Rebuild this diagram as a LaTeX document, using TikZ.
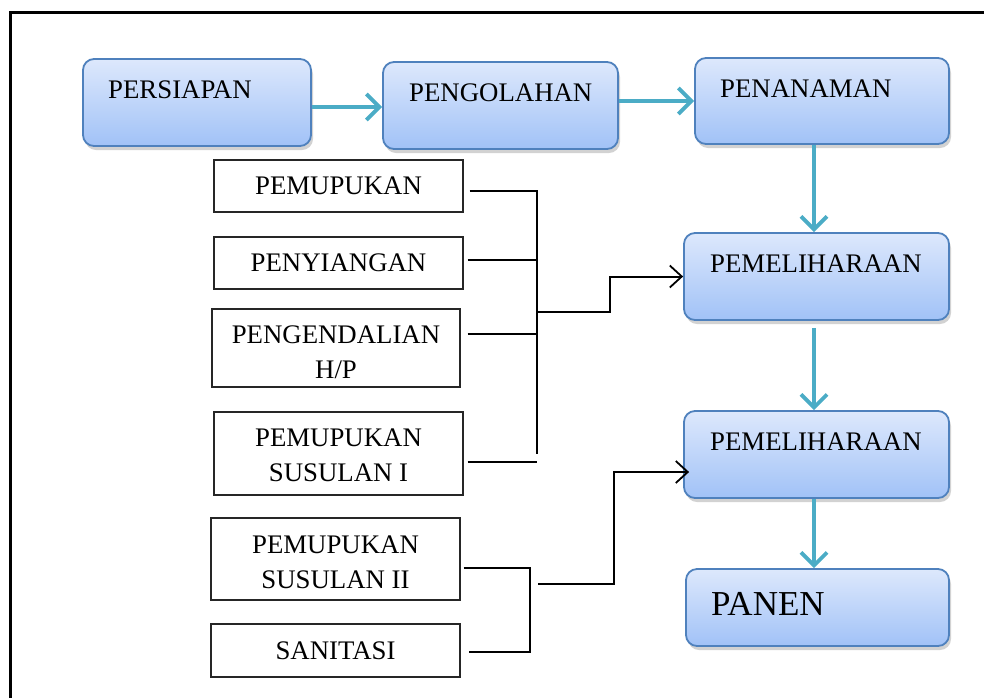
\documentclass[tikz,border=0pt]{standalone}
\usepackage{fontspec}
\setmainfont{Liberation Serif}
\usetikzlibrary{arrows.meta,shadows}
\definecolor{boxtop}{HTML}{DDE8FC}
\definecolor{boxbot}{HTML}{A1C2F7}
\definecolor{boxline}{HTML}{4F81BD}
\definecolor{flowteal}{HTML}{4BACC6}
\begin{document}
\begin{tikzpicture}[x=1pt,y=-1pt,
  bluebox/.style={draw=boxline,line width=1.8pt,rounded corners=11pt,
    top color=boxtop,bottom color=boxbot,inner sep=0pt,
    drop shadow={shadow xshift=2pt,shadow yshift=-4pt,opacity=0.25,fill=black!70}},
  whitebox/.style={draw=black!85,line width=1.1pt,fill=white,inner sep=0pt,
    align=center,font=\fontsize{26.8}{35}\selectfont},
  boxtext/.style={anchor=base west,inner sep=0pt,font=\fontsize{26.8}{32}\selectfont},
  flow/.style={draw=flowteal,line width=3.8pt,-{Straight Barb[length=13pt,width=26pt]}},
  conn/.style={draw=black,line width=2pt},
  connarrow/.style={conn,-{Straight Barb[length=12pt,width=22pt,line width=1.8pt]}}
]
\useasboundingbox (0,0) rectangle (984,697);
\draw[line width=3pt] (10,700) -- (10,12) -- (990,12);

% blue process boxes
\node[bluebox,minimum width=228pt,minimum height=87pt] (persiapan) at (197,102.5) {};
\node[bluebox,minimum width=235pt,minimum height=87pt] (pengolahan) at (500.5,105.5) {};
\node[bluebox,minimum width=254pt,minimum height=86pt] (penanaman) at (822,101) {};
\node[bluebox,minimum width=265pt,minimum height=87pt] (pem1) at (816.5,276.5) {};
\node[bluebox,minimum width=265pt,minimum height=87pt] (pem2) at (816.5,454.5) {};
\node[bluebox,minimum width=263pt,minimum height=77pt] (panen) at (817.5,607.5) {};

\node[boxtext] (tpersiapan) at (108,98) {PERSIAPAN};
\node[boxtext] (tpengolahan) at (409,101) {PENGOLAHAN};
\node[boxtext] (tpenanaman) at (720,97) {PENANAMAN};
\node[boxtext] (tpem1) at (710,272) {PEMELIHARAAN};
\node[boxtext] (tpem2) at (710,450) {PEMELIHARAAN};
\node[boxtext,font=\fontsize{35}{40}\selectfont] (tpanen) at (711,615) {PANEN};

% white activity boxes
\node[whitebox,minimum width=249pt,minimum height=52pt] (pupuk) at (338.5,186) {PEMUPUKAN};
\node[whitebox,minimum width=249pt,minimum height=52pt] (siang) at (338.5,263) {PENYIANGAN};
\node[whitebox,minimum width=248pt,minimum height=78pt,text height=60pt,text depth=0pt] (kendali) at (336,348) {PENGENDALIAN\\H/P};
\node[whitebox,minimum width=249pt,minimum height=83pt,text height=55pt,text depth=0pt] (sus1) at (338.5,453.5) {PEMUPUKAN\\SUSULAN I};
\node[whitebox,minimum width=249pt,minimum height=82pt,text height=58pt,text depth=0pt] (sus2) at (335.5,559) {PEMUPUKAN\\SUSULAN II};
\node[whitebox,minimum width=249pt,minimum height=53pt] (sanitasi) at (335.5,650.5) {SANITASI};

% teal flow arrows
\draw[flow] (persiapan.east |- 0,107) -- (pengolahan.west |- 0,107);
\draw[flow] (pengolahan.east |- 0,101) -- (penanaman.west |- 0,101);
\draw[flow] (penanaman.south -| 814,0) -- (pem1.north -| 814,0);
\draw[flow] ([yshift=-7pt]pem1.south -| 814,0) -- (pem2.north -| 814,0);
\draw[flow] (pem2.south -| 814,0) -- (panen.north -| 814,0);

% first bracket
\coordinate (j1) at (537,312);
\draw[conn] ([xshift=6pt,yshift=-5pt]pupuk.east) -| (537,454);
\draw[conn] ([xshift=4pt,yshift=3pt]siang.east) -- (537,260);
\draw[conn] ([xshift=7pt,yshift=14pt]kendali.east) -- (537,334);
\draw[conn] ([xshift=4pt,yshift=-8.5pt]sus1.east) -- (537,462);
\draw[connarrow] (j1) -| (610,276.5) -- (pem1.west);

% second bracket
\coordinate (j2) at (538,584);
\draw[conn] ([xshift=3pt,yshift=-9pt]sus2.east) -| (530,652) -- ([xshift=8pt,yshift=-1.5pt]sanitasi.east);
\draw[connarrow] (j2) -| (614,472) -- ([xshift=6pt,yshift=-17.5pt]pem2.west);
\end{tikzpicture}
\end{document}
